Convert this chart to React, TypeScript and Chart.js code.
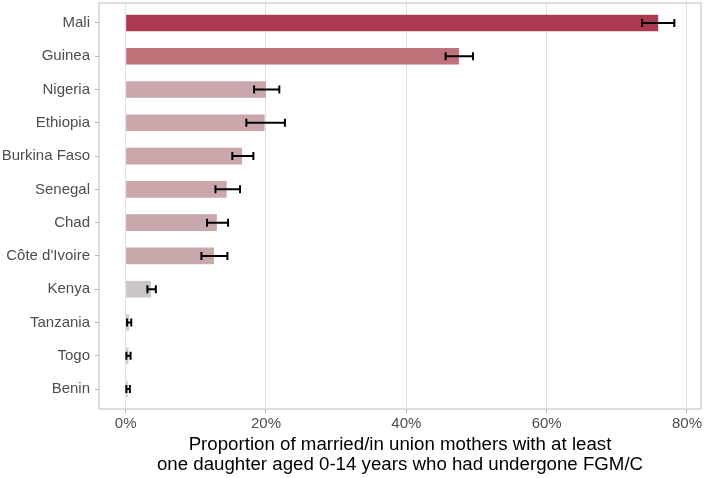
import React, { useEffect, useRef } from "react";
import { Chart, registerables } from "chart.js";

Chart.register(...registerables);

const countries = [
  "Mali", "Guinea", "Nigeria", "Ethiopia", "Burkina Faso", "Senegal",
  "Chad", "Côte d'Ivoire", "Kenya", "Tanzania", "Togo", "Benin",
];
const values = [75.9, 47.5, 20.0, 19.8, 16.6, 14.4, 13.0, 12.6, 3.6, 0.5, 0.4, 0.3];
const lower = [73.6, 45.6, 18.3, 17.2, 15.2, 12.8, 11.6, 10.8, 3.1, 0.2, 0.1, 0.1];
const upper = [78.2, 49.5, 21.9, 22.7, 18.2, 16.3, 14.6, 14.5, 4.3, 0.8, 0.7, 0.6];
const barColors = [
  "#ab3a50", "#c0727b", "#c9a7aa", "#c9a7aa", "#c9a7aa", "#c9a7aa",
  "#c9a8ab", "#c9a8ab", "#ccc5c6", "#d0cccd", "#d0cccd", "#d0cccd",
];
const xTicks = [0, 20, 40, 60, 80];
const xTitle = [
  "Proportion of married/in union mothers with at least",
  "one daughter aged 0-14 years who had undergone FGM/C",
];

const FONT = "'Liberation Sans', Arial, sans-serif";

const errorBarPlugin = {
  id: "errorBars",
  afterDatasetsDraw(chart: any) {
    const { ctx, scales } = chart;
    const xs = scales.x;
    const ys = scales.y;
    ctx.save();
    ctx.strokeStyle = "#000000";
    ctx.lineWidth = 2;
    for (let i = 0; i < values.length; i++) {
      const y = ys.getPixelForValue(i);
      const x1 = xs.getPixelForValue(lower[i]);
      const x2 = xs.getPixelForValue(upper[i]);
      ctx.beginPath();
      ctx.moveTo(x1, y);
      ctx.lineTo(x2, y);
      ctx.moveTo(x1, y - 4);
      ctx.lineTo(x1, y + 4);
      ctx.moveTo(x2, y - 4);
      ctx.lineTo(x2, y + 4);
      ctx.stroke();
    }
    ctx.restore();
  },
};

const panelBorderPlugin = {
  id: "panelBorder",
  afterDraw(chart: any) {
    const { ctx, chartArea } = chart;
    ctx.save();
    ctx.strokeStyle = "#c8c8c8";
    ctx.lineWidth = 1.2;
    ctx.strokeRect(
      chartArea.left,
      chartArea.top,
      chartArea.right - chartArea.left,
      chartArea.bottom - chartArea.top
    );
    ctx.restore();
  },
};

export default function App() {
  const ref = useRef<HTMLCanvasElement | null>(null);

  useEffect(() => {
    if (!ref.current) return;
    const chart = new Chart(ref.current, {
      type: "bar",
      data: {
        datasets: [
          {
            data: values.map((v, i) => ({ x: v, y: i })),
            backgroundColor: barColors,
            borderWidth: 0,
            barPercentage: 0.5,
            categoryPercentage: 1,
          },
        ],
      },
      options: {
        animation: false,
        responsive: true,
        maintainAspectRatio: false,
        indexAxis: "y",
        layout: { padding: { top: 3, right: 5, left: 0, bottom: 0 } },
        plugins: {
          legend: { display: false },
          tooltip: { enabled: false },
        },
        scales: {
          x: {
            type: "linear",
            min: -3.8,
            max: 82,
            afterBuildTicks(scale: any) {
              scale.ticks = xTicks.map((v) => ({ value: v }));
            },
            afterFit(scale: any) {
              scale.height = 69;
              scale.paddingLeft = 0;
              scale.paddingRight = 0;
            },
            grid: {
              color: "#e0e0e0",
              lineWidth: 1,
              drawTicks: true,
              tickLength: 4,
              tickColor: "#b3b3b3",
            },
            border: { display: false },
            ticks: {
              padding: 2,
              color: "#4d4d4d",
              font: { family: FONT, size: 15 },
              callback: (v: any) => `${v}%`,
              maxRotation: 0,
            },
            title: {
              display: true,
              text: xTitle,
              color: "#000000",
              font: { family: FONT, size: 18.7, lineHeight: 1.07 },
              padding: { top: 0, bottom: 3 },
            },
          },
          y: {
            type: "linear",
            reverse: true,
            offset: false,
            min: -0.6,
            max: 11.6,
            afterBuildTicks(scale: any) {
              scale.ticks = countries.map((_, i) => ({ value: i }));
            },
            afterFit(scale: any) {
              scale.width = 99;
              scale.paddingTop = 0;
              scale.paddingBottom = 0;
            },
            grid: {
              offset: false,
              drawOnChartArea: false,
              drawTicks: true,
              tickLength: 4,
              tickColor: "#b3b3b3",
            },
            border: { display: false },
            ticks: {
              padding: 5,
              color: "#4d4d4d",
              font: { family: FONT, size: 15 },
              callback: (v: any) => countries[v as number] ?? "",
            },
          },
        },
      },
      plugins: [errorBarPlugin, panelBorderPlugin],
    } as any);
    return () => chart.destroy();
  }, []);

  return (
    <div style={{ position: "fixed", left: 0, top: 0, width: 706, height: 478, background: "#ffffff" }}>
      <canvas ref={ref} />
    </div>
  );
}
